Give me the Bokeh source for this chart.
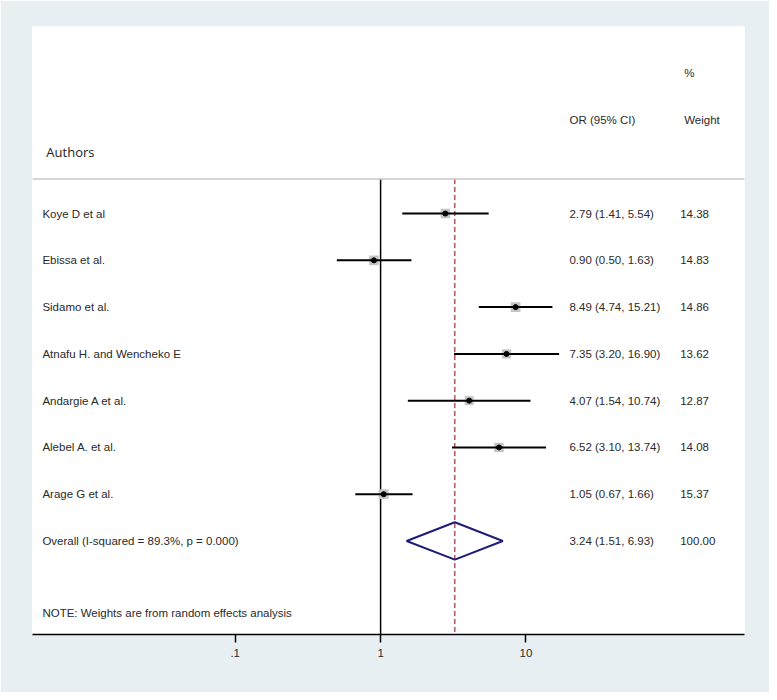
from bokeh.plotting import figure
from bokeh.models import ColumnDataSource, Range1d, FixedTicker, Span
from bokeh.core.properties import value
from bokeh.embed import file_html
from bokeh.resources import INLINE

# ---------------- data ----------------
studies = ["Koye  D et al", "Ebissa et al.", "Sidamo et al.", "Atnafu H. and Wencheko E",
           "Andargie A et al.", "Alebel A. et al.", "Arage G et al."]
or_est = [2.79, 0.90, 8.49, 7.35, 4.07, 6.52, 1.05]
ci_low = [1.41, 0.50, 4.74, 3.20, 1.54, 3.10, 0.67]
ci_high = [5.54, 1.63, 15.21, 16.90, 10.74, 13.74, 1.66]
weights = [14.38, 14.83, 14.86, 13.62, 12.87, 14.08, 15.37]

overall_label = "Overall  (I-squared = 89.3%, p = 0.000)"
overall_est = 3.24
overall_low = 1.51
overall_high = 6.93
overall_weight = 100.00

tick_values = [0.1, 1, 10]
tick_labels = [".1", "1", "10"]

note_text = "NOTE: Weights are from random effects analysis"

# ---------------- layout helpers ----------------
PX_PER_DECADE = 147.0
FRAME_LEFT_PX = 32.0
LOG_LEFT = (FRAME_LEFT_PX - 384.0) / PX_PER_DECADE
FRAME_W = 720.0
LOG_RIGHT = LOG_LEFT + FRAME_W / PX_PER_DECADE


def xpx(px):
    return 10 ** (LOG_LEFT + (px - FRAME_LEFT_PX) / PX_PER_DECADE)


BG = "#E8EFF2"
FONT = value("Liberation Sans")

p = figure(width=769, height=692, x_axis_type="log",
           x_range=Range1d(10 ** LOG_LEFT, 10 ** LOG_RIGHT),
           y_range=Range1d(9, -4),
           output_backend="svg", toolbar_location=None,
           y_axis_location=None)
p.min_border_left = 32
p.min_border_right = 25
p.min_border_top = 26
p.min_border_bottom = 58
p.border_fill_color = BG
p.background_fill_color = "white"
p.outline_line_color = None
p.grid.visible = False

rows = list(range(len(studies)))
overall_row = len(studies)
sep_y = -0.74

# separator
p.add_layout(Span(location=sep_y, dimension="width", line_color="#C8C8C8", line_width=1.5))

# null line at 1
p.segment(x0=[1], y0=[sep_y], x1=[1], y1=[9], line_color="black", line_width=1.5)
# overall dashed line
p.segment(x0=[overall_est], y0=[sep_y], x1=[overall_est], y1=[9],
          line_color="#A83C48", line_width=1.3, line_dash="5 3")

src = ColumnDataSource(dict(
    y=rows, est=or_est, lo=ci_low, hi=ci_high, w=weights,
    size=[2.5 * (w ** 0.5) for w in weights],
    name=studies,
    ortxt=[f"{e:.2f} ({l:.2f}, {h:.2f})" for e, l, h in zip(or_est, ci_low, ci_high)],
    wtxt=[f"{w:.2f}" for w in weights],
    xl=[xpx(42)] * len(studies),
    xo=[xpx(575)] * len(studies),
    xw=[xpx(687)] * len(studies),
))

p.scatter(x="est", y="y", size="size", marker="square", source=src,
          fill_color="#C4C4C4", line_color=None)
p.segment(x0="lo", y0="y", x1="hi", y1="y", source=src, line_color="black", line_width=2)
p.scatter(x="est", y="y", size=5, marker="circle", source=src,
          fill_color="black", line_color="black")

# overall diamond
p.patch(x=[overall_low, overall_est, overall_high, overall_est],
        y=[overall_row, overall_row - 0.4, overall_row, overall_row + 0.4],
        fill_color=None, line_color="#1E1E78", line_width=2)

tstyle = dict(text_font=FONT, text_font_size="11.5px", text_color="#2a2a2a",
              text_baseline="middle", text_align="left")
p.text(x="xl", y="y", text="name", source=src, **tstyle)
p.text(x="xo", y="y", text="ortxt", source=src, **tstyle)
p.text(x="xw", y="y", text="wtxt", source=src, **tstyle)

p.text(x=[xpx(42)], y=[overall_row], text=[overall_label], **tstyle)
p.text(x=[xpx(575)], y=[overall_row],
       text=[f"{overall_est:.2f} ({overall_low:.2f}, {overall_high:.2f})"], **tstyle)
p.text(x=[xpx(687)], y=[overall_row], text=[f"{overall_weight:.2f}"], **tstyle)

p.text(x=[xpx(42)], y=[8.54], text=[note_text], **tstyle)

# headers
p.text(x=[xpx(46)], y=[-1.31], text=["Authors"], text_font=value("Open Sans"),
       text_font_size="13px", text_color="#222222", text_baseline="middle")
p.text(x=[xpx(575)], y=[-2.0], text=["OR (95% CI)"], **tstyle)
p.text(x=[xpx(691)], y=[-2.0], text=["Weight"], **tstyle)
p.text(x=[xpx(691)], y=[-3.0], text=["%"], **tstyle)

# x axis
ax = p.xaxis[0]
ax.ticker = FixedTicker(ticks=tick_values)
ax.major_label_overrides = {t: l for t, l in zip(tick_values, tick_labels)}
ax.axis_line_color = "black"
ax.axis_line_width = 1.5
ax.major_tick_line_color = "black"
ax.major_tick_line_width = 1.5
ax.major_tick_out = 8
ax.major_tick_in = 0
ax.minor_tick_line_color = None
ax.major_label_text_font = "Liberation Sans"
ax.major_label_text_font_size = "11.5px"
ax.major_label_text_color = "#2a2a2a"
ax.major_label_standoff = 6

open("out.html", "w").write(file_html(p, INLINE))
